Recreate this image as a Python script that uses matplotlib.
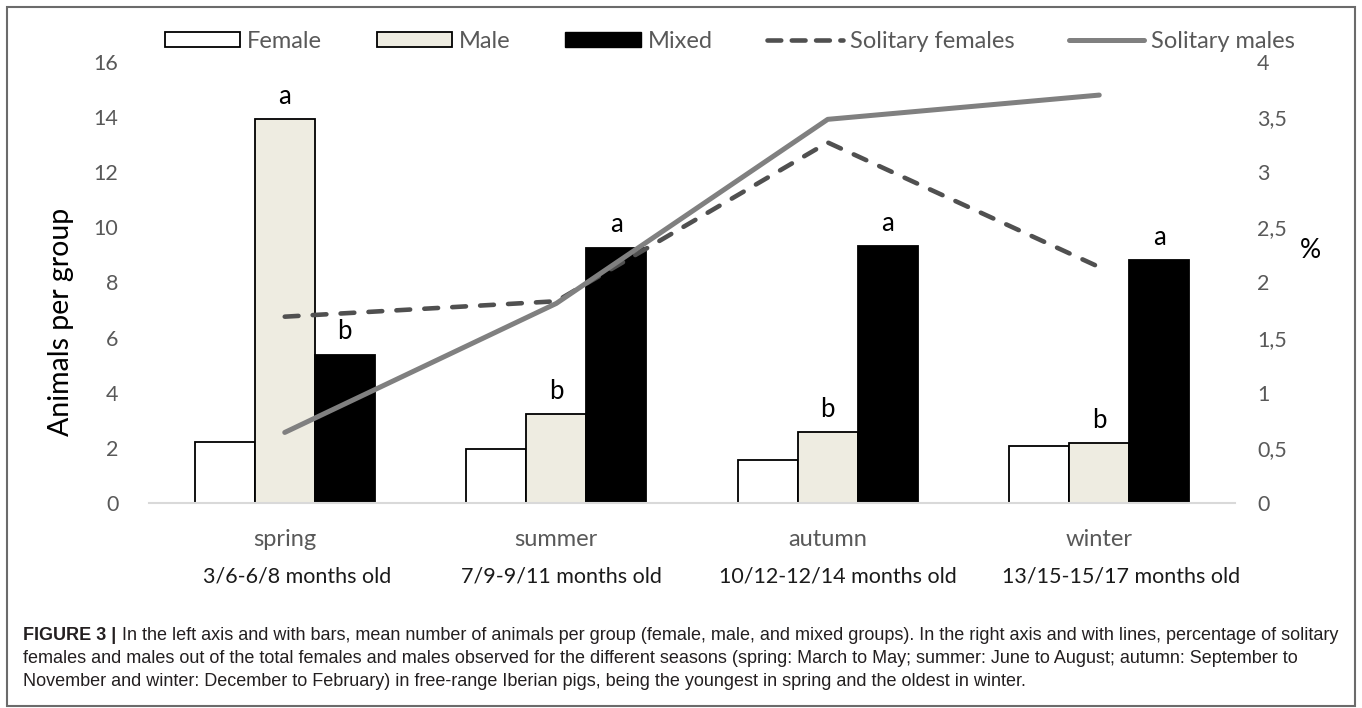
import matplotlib
matplotlib.use('Agg')
import matplotlib.pyplot as plt
from matplotlib.patches import Patch, Rectangle
from matplotlib.lines import Line2D
import numpy as np

plt.rcParams['font.family'] = ['Lato', 'DejaVu Sans']

# data
seasons = ['spring', 'summer', 'autumn', 'winter']
ages = ['3/6-6/8 months old', '7/9-9/11 months old',
        '10/12-12/14 months old', '13/15-15/17 months old']
female = [2.2, 1.95, 1.57, 2.08]
male = [13.92, 3.22, 2.57, 2.18]
mixed = [5.38, 9.26, 9.32, 8.81]
male_letters = ['a', 'b', 'b', 'b']
mixed_letters = ['b', 'a', 'a', 'a']
solitary_females = [1.69, 1.83, 3.27, 2.14]
solitary_males = [0.64, 1.81, 3.48, 3.70]
left_ticks = [0, 2, 4, 6, 8, 10, 12, 14, 16]
right_ticks = [0, 0.5, 1, 1.5, 2, 2.5, 3, 3.5, 4]
right_labels = ['0', '0,5', '1', '1,5', '2', '2,5', '3', '3,5', '4']

caption_head = 'FIGURE 3 |'
caption_lines = [
    'In the left axis and with bars, mean number of animals per group (female, male, and mixed groups). '
    'In the right axis and with lines, percentage of solitary',
    'females and males out of the total females and males observed for the different seasons '
    '(spring: March to May; summer: June to August; autumn: September to',
    'November and winter: December to February) in free-range Iberian pigs, '
    'being the youngest in spring and the oldest in winter.',
]

W, H = 1362, 708
tick_grey = '#595959'
male_fill = '#EEECE1'
age_nudge = [9, 4, 7, 16]  # the age text boxes sit a little right of centre

fig = plt.figure(figsize=(W / 100, H / 100), dpi=100)
ax = fig.add_axes([149 / W, 1 - 503 / H, (1235 - 149) / W, (503 - 62) / H])

x = np.arange(len(seasons))
w = 0.221
ax.bar(x - w, female, w, color='white', edgecolor='black', linewidth=1.3)
b_male = ax.bar(x, male, w, color=male_fill, edgecolor='black', linewidth=1.3)
b_mixed = ax.bar(x + w, mixed, w, color='black', edgecolor='black', linewidth=1.3)

for bars, letters in [(b_male, male_letters), (b_mixed, mixed_letters)]:
    for r, lab in zip(bars, letters):
        ax.annotate(lab, (r.get_x() + r.get_width() / 2, r.get_height()),
                    xytext=(0, 11), textcoords='offset points',
                    ha='center', va='baseline', fontsize=18.5, color='black')

ax.set_xlim(-0.5, 3.5)
ax.set_ylim(0, 16)
ax.set_yticks(left_ticks)
ax.set_xticks(x)
ax.set_xticklabels([])
ax.tick_params(axis='both', length=0)
ax.tick_params(axis='y', labelsize=15.5, labelcolor=tick_grey, pad=22)
for s in ['top', 'left', 'right']:
    ax.spines[s].set_visible(False)
ax.spines['bottom'].set_color('#d9d9d9')
ax.spines['bottom'].set_linewidth(1.5)

for i in x:
    ax.annotate(seasons[i], (i, 0), xytext=(0, -26.5), textcoords='offset points',
                ha='center', va='center', fontsize=17, color=tick_grey)
    ax.annotate(ages[i], (i, 0), xytext=(age_nudge[i], -53), textcoords='offset points',
                ha='center', va='center', fontsize=15.5, color='#1a1a1a')

ax2 = ax.twinx()
ax2.plot(x, solitary_females, color='#505050', lw=3.3, ls=(0, (3.0, 3.1)),
         dash_capstyle='round', solid_capstyle='round')
ax2.plot(x, solitary_males, color='#808080', lw=3.6, solid_capstyle='round')
ax2.set_ylim(0, 4)
ax2.set_yticks(right_ticks)
ax2.set_yticklabels(right_labels)
ax2.tick_params(axis='y', length=0, labelsize=15.5, labelcolor=tick_grey, pad=16)
for s in ax2.spines.values():
    s.set_visible(False)

fig.text(61 / W, 1 - 322 / H, 'Animals per group', rotation=90,
         ha='center', va='center', fontsize=20.5, color='black')
fig.text(1310 / W, 1 - 251 / H, '%', ha='center', va='center',
         fontsize=19, color='black')

handles = [
    Patch(facecolor='white', edgecolor='black', linewidth=1.3),
    Patch(facecolor=male_fill, edgecolor='black', linewidth=1.3),
    Patch(facecolor='black', edgecolor='black'),
    Line2D([], [], color='#505050', lw=3.3, ls=(0, (3.0, 2.3)), dash_capstyle='round'),
    Line2D([], [], color='#808080', lw=3.6, solid_capstyle='round'),
]
labels = ['Female', 'Male', 'Mixed', 'Solitary females', 'Solitary males']
fig.legend(handles, labels, loc='center', bbox_to_anchor=(730 / W, 1 - 41 / H),
           ncol=5, frameon=False, fontsize=17, handlelength=3.2,
           handleheight=0.6, handletextpad=0.3, columnspacing=2.3,
           labelcolor=tick_grey)

# caption
cap_col = '#231f20'
cap_fs = 13
head = fig.text(23 / W, 1 - 636 / H, caption_head, fontsize=cap_fs,
                family='Liberation Sans', weight='bold', color=cap_col,
                va='center', ha='left')
ax.annotate(caption_lines[0], xy=(1, 0.5), xycoords=head, xytext=(4, 0),
            textcoords='offset points', fontsize=cap_fs, family='Liberation Sans',
            color=cap_col, va='center', ha='left', annotation_clip=False)
for k, line in enumerate(caption_lines[1:]):
    fig.text(23 / W, 1 - (658.5 + 22.5 * k) / H, line, fontsize=cap_fs,
             family='Liberation Sans', color=cap_col, va='center', ha='left')

# outer frame
fig.add_artist(Rectangle((7 / W, 1 - 706 / H), (1355 - 7) / W, (706 - 7) / H,
                         transform=fig.transFigure, fill=False,
                         edgecolor='#6b6b6b', linewidth=1.5))

fig.savefig('out.png', dpi=100)
